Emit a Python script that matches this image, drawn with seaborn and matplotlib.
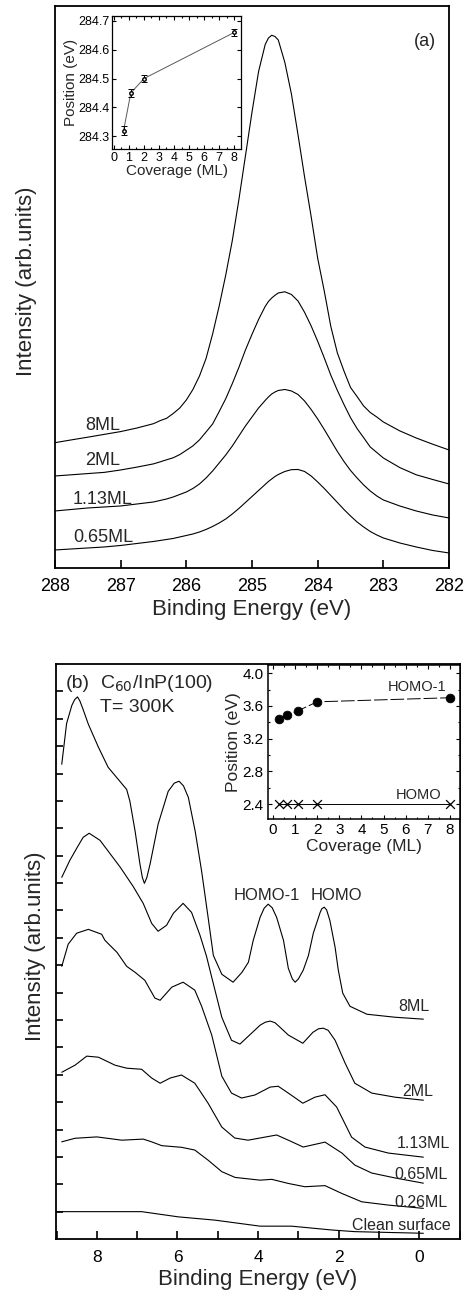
import numpy as np
import matplotlib
matplotlib.use("Agg")
import matplotlib.pyplot as plt
import seaborn as sns
from matplotlib.ticker import MultipleLocator

# ---- panel (a): C 1s core level, binding energy grid (eV) ----
c1s_energy = [288.0, 287.75, 287.5, 287.25, 287.0, 286.75, 286.5, 286.4, 286.3, 286.2,
              286.1, 286.0, 285.9, 285.8, 285.7, 285.6, 285.5, 285.4, 285.3, 285.2,
              285.1, 285.0, 284.9, 284.8, 284.75, 284.7, 284.65, 284.6, 284.5, 284.4,
              284.3, 284.2, 284.1, 284.0, 283.9, 283.8, 283.7, 283.6, 283.5, 283.4,
              283.3, 283.2, 283.1, 283.0, 282.75, 282.5, 282.25, 282.0]
c1s_8ml = [125.3, 128.1, 130.8, 133.6, 136.4, 140, 144.3, 147.3, 149.7, 154.5,
           160, 168, 178.5, 192, 209.5, 234, 262, 293, 327.5, 368.3,
           412.2, 456, 496.5, 523.3, 530, 532.7, 531.5, 528, 505.5, 474,
           433.4, 391.2, 351.6, 309.7, 277, 241.5, 215, 197, 180.5, 171.4,
           162, 155.5, 151, 146, 137.1, 130, 123.8, 118]
c1s_2ml = [92, 93.2, 94.4, 95.6, 98, 100.9, 104.1, 106.1, 108.2, 110.2,
           113.4, 117.7, 122.1, 128.1, 136, 144, 156.4, 169.3, 184.4, 200.6,
           218, 233.7, 248.5, 261.5, 266.5, 270, 272.7, 275, 276.2, 273.5,
           267, 255.7, 242.1, 226.7, 210.1, 192.8, 177.5, 163.5, 150.3, 139.4,
           130.3, 121, 115.5, 110, 100.4, 93.2, 88.5, 84]
c1s_113ml = [57, 58.5, 60, 61, 62, 64, 66, 67.5, 69, 71,
             73.5, 76, 79.5, 84, 90, 97, 105, 113, 122, 132,
             142, 151, 160, 167.5, 171, 174, 176, 177.5, 178.5, 177,
             173.5, 167, 158.5, 149, 138.5, 127.5, 116.5, 106.5, 97.5, 90,
             83, 77, 72, 68, 62, 57, 53, 50]
c1s_065ml = [18, 19, 20, 21, 22.5, 24.5, 26.5, 27.5, 28.5, 29.5,
             31, 32.5, 34, 36, 38.5, 41.5, 45, 49, 54, 59.5,
             65.5, 71.5, 77.5, 83.5, 86.5, 89, 91.5, 93.5, 96.5, 98.3,
             98.5, 96.5, 92, 86, 79.5, 72.5, 65.5, 58.5, 52, 46,
             41, 36.5, 33, 30, 25, 21, 17.5, 15]
c1s_labels = ["8ML", "2ML", "1.13ML", "0.65ML"]

# inset (a): peak position vs coverage
cov_a = [0.65, 1.13, 2.0, 8.0]
pos_a = [284.32, 284.45, 284.50, 284.66]
err_a = [0.017, 0.013, 0.013, 0.013]

# ---- panel (b): valence band spectra ----
vb_8ml_e = [8.87, 8.75, 8.62, 8.55, 8.48, 8.42, 8.35, 8.21, 7.96, 7.72, 7.47, 7.26, 7.18,
            7.05, 6.93, 6.87, 6.82, 6.76, 6.68, 6.48, 6.23, 6.08, 5.96, 5.85, 5.73, 5.56,
            5.40, 5.24, 5.11, 4.90, 4.62, 4.40, 4.24, 4.12, 3.95, 3.85, 3.75, 3.65, 3.54,
            3.37, 3.25, 3.15, 3.08, 3.00, 2.88, 2.75, 2.63, 2.46, 2.42, 2.36, 2.30, 2.22,
            2.09, 2.01, 1.90, 1.72, 1.30, 0.60, -0.1]
vb_8ml_i = [17.34, 18.83, 19.49, 19.70, 19.80, 19.65, 19.38, 18.80, 17.96, 17.23, 16.79,
            16.42, 15.99, 14.89, 13.69, 13.20, 12.99, 13.20, 13.69, 15.15, 16.35, 16.65,
            16.72, 16.55, 16.13, 14.89, 13.43, 11.75, 10.36, 9.67, 9.38, 9.74, 10.11,
            10.91, 11.75, 12.08, 12.23, 12.10, 11.75, 10.91, 9.89, 9.50, 9.38, 9.50, 9.82,
            10.36, 11.17, 11.93, 12.06, 12.12, 12.02, 11.64, 10.66, 9.82, 8.98, 8.50, 8.21,
            8.10, 8.03]
vb_2ml_e = [8.87, 8.67, 8.50, 8.34, 8.19, 7.92, 7.68, 7.42, 7.10, 6.85, 6.64, 6.48, 6.27,
            6.10, 5.86, 5.65, 5.44, 5.28, 5.15, 4.90, 4.66, 4.45, 4.16, 3.95, 3.82, 3.70,
            3.58, 3.46, 3.25, 2.89, 2.64, 2.50, 2.38, 2.26, 2.09, 1.84, 1.60, 1.18, 0.60, -0.1]
vb_2ml_i = [13.21, 13.83, 14.27, 14.67, 14.82, 14.56, 14.09, 13.58, 12.88, 12.26, 11.53,
            11.24, 11.46, 11.90, 12.26, 11.93, 11.09, 10.33, 9.56, 8.10, 7.26, 7.12, 7.52,
            7.81, 7.92, 7.96, 7.90, 7.74, 7.45, 7.15, 7.55, 7.68, 7.70, 7.62, 7.26, 6.42,
            5.69, 5.33, 5.18, 5.07]
vb_113ml_e = [8.87, 8.71, 8.50, 8.21, 7.88, 7.80, 7.50, 7.26, 7.05, 6.81, 6.56, 6.43, 6.14,
              5.86, 5.57, 5.40, 5.15, 4.90, 4.66, 4.41, 4.08, 3.70, 3.50, 3.25, 2.89, 2.59,
              2.34, 2.05, 1.68, 1.35, 0.77, -0.1]
vb_113ml_i = [9.96, 10.77, 11.17, 11.31, 11.13, 10.91, 10.47, 9.96, 9.74, 9.45, 8.80, 8.72,
              9.20, 9.38, 9.09, 8.50, 7.45, 5.95, 5.33, 5.15, 5.26, 5.55, 5.58, 5.33, 4.96,
              5.18, 5.27, 4.82, 3.72, 3.36, 3.14, 2.99]
vb_065ml_e = [8.87, 8.54, 8.25, 7.96, 7.55, 7.26, 6.89, 6.64, 6.43, 6.18, 5.90, 5.57, 5.24,
              4.90, 4.58, 4.25, 3.95, 3.54, 3.25, 2.88, 2.34, 1.92, 1.60, 1.18, 0.60, -0.1]
vb_065ml_i = [6.09, 6.35, 6.68, 6.64, 6.35, 6.24, 6.20, 5.88, 5.69, 5.88, 5.99, 5.69, 4.96,
              4.09, 3.69, 3.61, 3.69, 3.80, 3.61, 3.36, 3.54, 3.14, 2.70, 2.41, 2.23, 2.04]
vb_026ml_e = [8.87, 8.54, 8.00, 7.38, 6.85, 6.64, 6.39, 5.90, 5.57, 5.24, 4.90, 4.57, 3.95,
              3.66, 3.25, 2.84, 2.34, 1.93, 1.43, 0.77, -0.1]
vb_026ml_i = [3.55, 3.68, 3.73, 3.61, 3.65, 3.55, 3.41, 3.35, 3.25, 2.88, 2.46, 2.25, 2.15,
              2.18, 2.03, 1.91, 1.95, 1.67, 1.36, 1.24, 1.12]
vb_clean_e = [9.04, 7.97, 6.89, 5.98, 5.07, 3.95, 3.17, 2.17, 1.60, -0.1]
vb_clean_i = [1.00, 1.00, 1.00, 0.81, 0.69, 0.47, 0.47, 0.33, 0.27, 0.21]

# inset (b): HOMO-1 and HOMO positions vs coverage
cov_b = [0.26, 0.65, 1.13, 2.0, 8.0]
homo1_pos = [3.44, 3.49, 3.54, 3.65, 3.70]
homo_pos = [2.40, 2.40, 2.40, 2.40, 2.40]

sns.set_theme(style="ticks")
plt.rcParams['font.family'] = ['Liberation Sans', 'DejaVu Sans']
plt.rcParams['xtick.direction'] = 'in'
plt.rcParams['ytick.direction'] = 'in'
plt.rcParams['axes.edgecolor'] = 'black'
plt.rcParams['axes.linewidth'] = 1.3
plt.rcParams['xtick.color'] = 'black'
plt.rcParams['ytick.color'] = 'black'

fig = plt.figure(figsize=(4.69, 13.0), dpi=100)
lw = 0.8

# ================= panel (a) =================
ax1 = fig.add_axes([0.1173, 0.5631, 0.8401, 0.4323])
for series in [c1s_8ml, c1s_2ml, c1s_113ml, c1s_065ml]:
    sns.lineplot(x=c1s_energy, y=series, ax=ax1, color='black', linewidth=lw,
                 sort=False, estimator=None)
ax1.set_xlim(288, 282)
ax1.set_ylim(0, 562)
ax1.set_yticks([])
ax1.set_xticks([288, 287, 286, 285, 284, 283, 282])
ax1.tick_params(axis='x', length=6, width=1.2, labelsize=13, pad=7)
ax1.set_xlabel("Binding Energy (eV)", fontsize=16, labelpad=3)
ax1.set_ylabel("Intensity (arb.units)", fontsize=16)
ax1.yaxis.set_label_coords(-0.045, 0.51)
for lab, yy in zip(c1s_labels, [142, 107, 68, 30]):
    ax1.text(287.27, yy, lab, fontsize=13, ha='center', va='center')
ax1.text(282.37, 526, "(a)", fontsize=13, ha='center', va='center')

# inset (a)
ins1 = fig.add_axes([0.2388, 0.8854, 0.2751, 0.1023])
sns.lineplot(x=cov_a, y=pos_a, ax=ins1, color='0.35', linewidth=0.7,
             sort=False, estimator=None)
ins1.errorbar(cov_a, pos_a, yerr=err_a, fmt='o', mfc='white', mec='black', ms=2.5,
              ecolor='black', elinewidth=0.7, capsize=2, capthick=0.7)
ins1.set_xlim(-0.12, 8.45)
ins1.set_ylim(284.256, 284.717)
ins1.set_xticks(range(0, 9))
ins1.set_yticks([284.3, 284.4, 284.5, 284.6, 284.7])
ins1.xaxis.set_minor_locator(MultipleLocator(0.5))
ins1.tick_params(which='both', top=True, right=True, width=0.8, labelsize=9, pad=2)
ins1.tick_params(which='major', length=3)
ins1.tick_params(which='minor', length=1.5)
ins1.set_xlabel("Coverage (ML)", fontsize=11, labelpad=0)
ins1.set_ylabel("Position (eV)", fontsize=11, labelpad=0)
for sp in ins1.spines.values():
    sp.set_linewidth(0.9)

# ================= panel (b) =================
ax2 = fig.add_axes([0.1188, 0.0469, 0.8621, 0.4423])
for e, i in [(vb_8ml_e, vb_8ml_i), (vb_2ml_e, vb_2ml_i), (vb_113ml_e, vb_113ml_i),
             (vb_065ml_e, vb_065ml_i), (vb_026ml_e, vb_026ml_i), (vb_clean_e, vb_clean_i)]:
    sns.lineplot(x=e, y=i, ax=ax2, color='black', linewidth=lw, sort=False, estimator=None)
ax2.set_xlim(9.02, -1.01)
ax2.set_ylim(0, 21)
ax2.set_xticks([8, 6, 4, 2, 0])
ax2.xaxis.set_minor_locator(MultipleLocator(1))
ax2.set_yticks(np.arange(1, 21))
ax2.set_yticklabels([])
ax2.tick_params(axis='x', which='both', length=6, width=1.2, labelsize=12.5, pad=8)
ax2.tick_params(axis='y', length=5, width=1.2)
ax2.set_xlabel("Binding Energy (eV)", fontsize=16, labelpad=3)
ax2.set_ylabel("Intensity (arb.units)", fontsize=16)
ax2.yaxis.set_label_coords(-0.024, 0.51)

ax2.text(8.48, 20.28, "(b)", fontsize=14, ha='center', va='center')
ax2.text(7.92, 20.28, "C$_{60}$/InP(100)", fontsize=14, ha='left', va='center')
ax2.text(7.92, 19.43, "T= 300K", fontsize=14, ha='left', va='center')
ax2.text(3.79, 12.55, "HOMO-1", fontsize=12, ha='center', va='center')
ax2.text(2.05, 12.55, "HOMO", fontsize=12, ha='center', va='center')
vb_label_pos = [("8ML", 0.13, 8.48), ("2ML", 0.05, 5.40), ("1.13ML", -0.1, 3.49),
                ("0.65ML", -0.05, 2.36), ("0.26ML", -0.05, 1.33), ("Clean surface", 0.44, 0.49)]
for lab, xx, yy in vb_label_pos:
    ax2.text(xx, yy, lab, fontsize=11.5, ha='center', va='center')

# inset (b)
ins2 = fig.add_axes([0.5708, 0.37, 0.41, 0.1185])
sns.lineplot(x=cov_b, y=homo1_pos, ax=ins2, color='black', linewidth=0.7,
             sort=False, estimator=None, dashes=False)
ins2.lines[-1].set_dashes([14, 3])
sns.scatterplot(x=cov_b, y=homo1_pos, ax=ins2, color='black', s=40, edgecolor='black')
sns.lineplot(x=cov_b, y=homo_pos, ax=ins2, color='black', linewidth=0.7,
             sort=False, estimator=None)
sns.scatterplot(x=cov_b, y=homo_pos, ax=ins2, color='black', marker='x', s=40,
                linewidth=0.9)
ins2.set_xlim(-0.23, 8.45)
ins2.set_ylim(2.22, 4.10)
ins2.set_xticks(range(0, 9))
ins2.set_yticks([2.4, 2.8, 3.2, 3.6, 4.0])
ins2.set_yticklabels(["2.4", "2.8", "3.2", "3.6", "4.0"])
ins2.xaxis.set_minor_locator(MultipleLocator(0.5))
ins2.yaxis.set_minor_locator(MultipleLocator(0.2))
ins2.tick_params(which='both', top=True, right=True, width=0.8, labelsize=11, pad=3)
ins2.tick_params(which='major', length=3)
ins2.tick_params(which='minor', length=1.5)
ins2.set_xlabel("Coverage (ML)", fontsize=12.5, labelpad=1)
ins2.set_ylabel("Position (eV)", fontsize=12.5, labelpad=1)
ins2.text(6.49, 3.83, "HOMO-1", fontsize=10.5, ha='center', va='center')
ins2.text(6.56, 2.51, "HOMO", fontsize=10.5, ha='center', va='center')
for sp in ins2.spines.values():
    sp.set_linewidth(1.1)

fig.savefig("out.png", dpi=100)
